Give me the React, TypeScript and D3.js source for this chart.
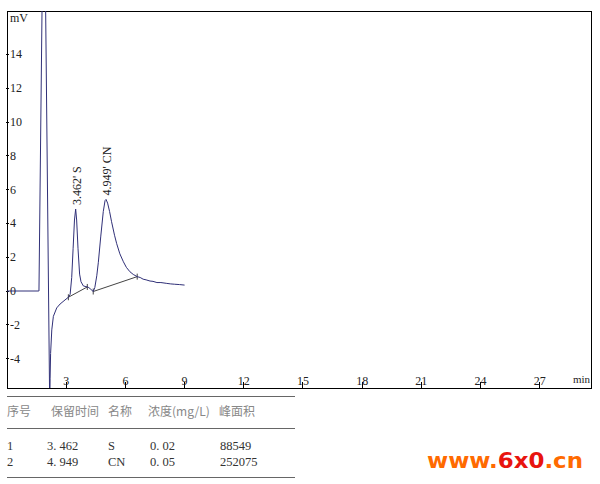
import React from 'react';
import * as d3 from 'd3';

// chromatogram signal, time (min) / mV
const times = [
  0, 1.6, 1.62, 1.87, 2.155, 2.165, 2.185, 2.21, 2.27, 2.35, 2.52, 2.69, 2.94, 3.11,
  3.2, 3.28, 3.35, 3.42, 3.48, 3.53, 3.6, 3.68, 3.75, 3.87, 4.0, 4.07, 4.15, 4.25, 4.37,
  4.45, 4.55, 4.63, 4.75, 4.88, 4.97, 5.02, 5.1, 5.2, 5.3, 5.45, 5.56, 5.72, 5.9, 6.05,
  6.23, 6.4, 6.6, 6.75, 6.9, 7.05, 7.25, 7.4, 7.6, 7.8, 8.1, 8.3, 8.5, 8.75, 9.0,
];
const signal = [
  0, 0, 0, 26.8, -5.74, -7.0, -5.2, -3.7, -2.3, -1.5, -1.0, -0.77, -0.53, -0.37,
  -0.2, 0.8, 2.5, 4.2, 4.85, 4.2, 2.5, 1.0, 0.55, 0.3, 0.26, 0.24, 0.2, 0.1, -0.03,
  0.2, 0.9, 1.7, 3.2, 4.7, 5.35, 5.42, 5.2, 4.7, 4.1, 3.3, 2.8, 2.2, 1.73, 1.4,
  1.14, 0.98, 0.85, 0.8, 0.7, 0.66, 0.59, 0.57, 0.5, 0.5, 0.45, 0.42, 0.4, 0.38, 0.35,
];

// integration baselines [t0, v0, t1, v1]
const baselines = [
  [3.11, -0.37, 4.07, 0.24],
  [4.37, -0.03, 6.6, 0.85],
];

const peakTimes = [3.462, 4.949];
const peakHeights = [4.85, 5.42];
const peakLabels = ["3.462' S", "4.949' CN"];

const xTicks = [3, 6, 9, 12, 15, 18, 21, 24, 27];
const yTicks = [-4, -2, 0, 2, 4, 6, 8, 10, 12, 14];

const tableHeader = ['序号', '保留时间', '名称', '浓度(mg/L)', '峰面积'];
const tableRows = [
  ['1', '3. 462', 'S', '0. 02', '88549'],
  ['2', '4. 949', 'CN', '0. 05', '252075'],
];

const W = 600;
const H = 484;
const plot = { left: 7, top: 11, right: 591, bottom: 388 };
const headerX = [7, 51, 108, 148, 219];
const cellX = [7, 47, 108, 150, 220];

const serif = '"Liberation Serif", "DejaVu Serif", serif';
const cjk = '"Noto Sans CJK SC", sans-serif';

export default function App() {
  const x = d3.scaleLinear().domain([0, 29.6]).range([plot.left, plot.right]);
  const y = d3.scaleLinear().domain([-5.74, 16.57]).range([plot.bottom, plot.top]);

  const pts = times.map((t, i) => [t, signal[i]] as [number, number]);
  const line = d3.line<[number, number]>().x(d => x(d[0])).y(d => y(d[1]));

  return (
    <svg width={W} height={H} style={{ position: 'absolute', left: 0, top: 0, background: '#fff' }}>
      <defs>
        <clipPath id="plotClip">
          <rect x={plot.left} y={plot.top} width={plot.right - plot.left} height={plot.bottom - plot.top} />
        </clipPath>
      </defs>

      {/* frame */}
      <rect x={plot.left} y={plot.top} width={plot.right - plot.left} height={plot.bottom - plot.top}
        fill="none" stroke="#000" strokeWidth={1} shapeRendering="crispEdges" />

      {/* y axis */}
      {yTicks.map(v => (
        <g key={v}>
          <line x1={plot.left - 1} x2={plot.left + 2} y1={y(v)} y2={y(v)} stroke="#000" shapeRendering="crispEdges" />
          <text x={plot.left + 3} y={y(v) + 4} fontFamily={serif} fontSize={12} fill="#222">{v}</text>
        </g>
      ))}
      <text x={plot.left + 3} y={22} fontFamily={serif} fontSize={12} fill="#222">mV</text>

      {/* x axis */}
      {xTicks.map(t => (
        <g key={t}>
          <line x1={x(t)} x2={x(t)} y1={plot.bottom} y2={plot.bottom - 6} stroke="#000" shapeRendering="crispEdges" />
          <text x={x(t)} y={plot.bottom - 3} textAnchor="middle" fontFamily={serif} fontSize={12} fill="#222">{t}</text>
        </g>
      ))}
      <text x={573} y={383} fontFamily={serif} fontSize={11} fill="#222">min</text>

      <g clipPath="url(#plotClip)">
        {baselines.map((b, i) => (
          <g key={i} stroke="#444" strokeWidth={1}>
            <line x1={x(b[0])} y1={y(b[1])} x2={x(b[2])} y2={y(b[3])} />
            <line x1={x(b[0])} x2={x(b[0])} y1={y(b[1]) - 3} y2={y(b[1]) + 3} />
            <line x1={x(b[2])} x2={x(b[2])} y1={y(b[3]) - 3} y2={y(b[3]) + 3} />
          </g>
        ))}
        <path d={line(pts) ?? ''} fill="none" stroke="#303078" strokeWidth={1} />
      </g>

      {/* peak labels */}
      {peakTimes.map((t, i) => {
        const px = x(t) + 6;
        const py = y(peakHeights[i]) - 4;
        return (
          <text key={i} transform={`translate(${px},${py}) rotate(-90)`} fontFamily={serif} fontSize={12} fill="#222">
            {peakLabels[i]}
          </text>
        );
      })}

      {/* result table */}
      {[396, 428, 477].map(ly => (
        <line key={ly} x1={7} x2={295} y1={ly} y2={ly} stroke="#666" strokeWidth={1} shapeRendering="crispEdges" />
      ))}
      {tableHeader.map((h, i) => (
        <text key={h} x={headerX[i]} y={416} fontFamily={cjk} fontSize={12} fill="#888">{h}</text>
      ))}
      {tableRows.map((row, r) =>
        row.map((c, i) => (
          <text key={`${r}-${i}`} x={cellX[i]} y={450 + r * 16} fontFamily={serif} fontSize={12.5} fill="#333">{c}</text>
        ))
      )}

      {/* watermark */}
      <text x={427} y={468} fontFamily='"DejaVu Sans", sans-serif' fontWeight="bold" fontSize={22}
        textLength={156} lengthAdjust="spacingAndGlyphs">
        <tspan fill="#ff6a00">www.</tspan>
        <tspan fill="#e8140f">6x0</tspan>
        <tspan fill="#ff6a00">.cn</tspan>
      </text>
    </svg>
  );
}
